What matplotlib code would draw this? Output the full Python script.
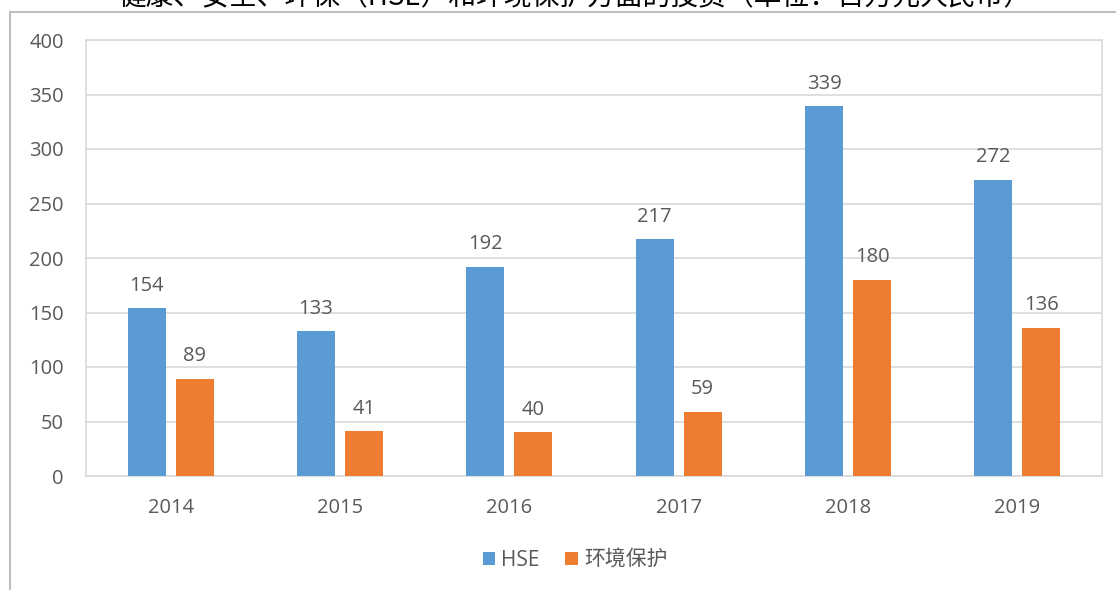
import numpy as np
import matplotlib
matplotlib.use('Agg')
from matplotlib import pyplot as plt
from matplotlib.lines import Line2D

plt.rcParams['font.family'] = ['Open Sans', 'Noto Sans CJK SC', 'DejaVu Sans']

years = ['2014', '2015', '2016', '2017', '2018', '2019']
hse = [154, 133, 192, 217, 339, 272]
env = [89, 41, 40, 59, 180, 136]
series_names = ['HSE', '环境保护']
title = '健康、安全、环保（HSE）和环境保护方面的投资（单位：百万元人民币）'

blue = '#5B9BD5'
orange = '#ED7D31'
txt = '#595959'
grid = '#D9D9D9'

fig = plt.figure(figsize=(11.16, 5.9), dpi=100)
ax = fig.add_axes([86 / 1116, 1 - 476 / 590, (1102 - 86) / 1116, (476 - 40) / 590])

x = np.arange(len(years))
w = 0.225
off = 0.142
b1 = ax.bar(x - off, hse, w, color=blue, label=series_names[0], zorder=3)
b2 = ax.bar(x + off, env, w, color=orange, label=series_names[1], zorder=3)

for bars in (b1, b2):
    for r in bars:
        ax.annotate(str(int(r.get_height())), (r.get_x() + r.get_width() / 2, r.get_height()),
                    xytext=(0, 9), textcoords='offset points', ha='center', va='bottom',
                    fontsize=14.5, color=txt)

ax.set_xlim(-0.5, len(years) - 0.5)
ax.set_ylim(0, 400)
ax.set_yticks(range(0, 401, 50))
ax.set_xticks(x)
ax.set_xticklabels(years)
ax.yaxis.grid(True, color=grid, linewidth=1.2, zorder=0)
ax.tick_params(axis='both', length=0, labelsize=14.5, labelcolor=txt)
ax.tick_params(axis='y', pad=16)
ax.tick_params(axis='x', pad=16)
for s in ax.spines.values():
    s.set_color(grid)
    s.set_linewidth(1.2)

fig.legend(loc='center', bbox_to_anchor=(575 / 1116, 1 - 560 / 590), ncol=2, frameon=False,
           handlelength=0.6, handleheight=0.6, handletextpad=0.3, columnspacing=1.2,
           fontsize=15, labelcolor=txt)

# outer frame (partially visible)
fy = 1 - 12 / 590
fx = 10 / 1116
fig.add_artist(Line2D([fx, fx], [0, fy], transform=fig.transFigure, color='#BFBFBF', linewidth=1.5))
fig.add_artist(Line2D([fx, 1], [fy, fy], transform=fig.transFigure, color='#BFBFBF', linewidth=1.5))

# title cut off at the top edge, as in the source
fig.text(575 / 1116, 1 - 5 / 590, title, ha='center', va='baseline', fontsize=20,
         family=['Noto Sans CJK SC', 'DejaVu Sans'], color='black')

fig.savefig('out.png', dpi=100)
